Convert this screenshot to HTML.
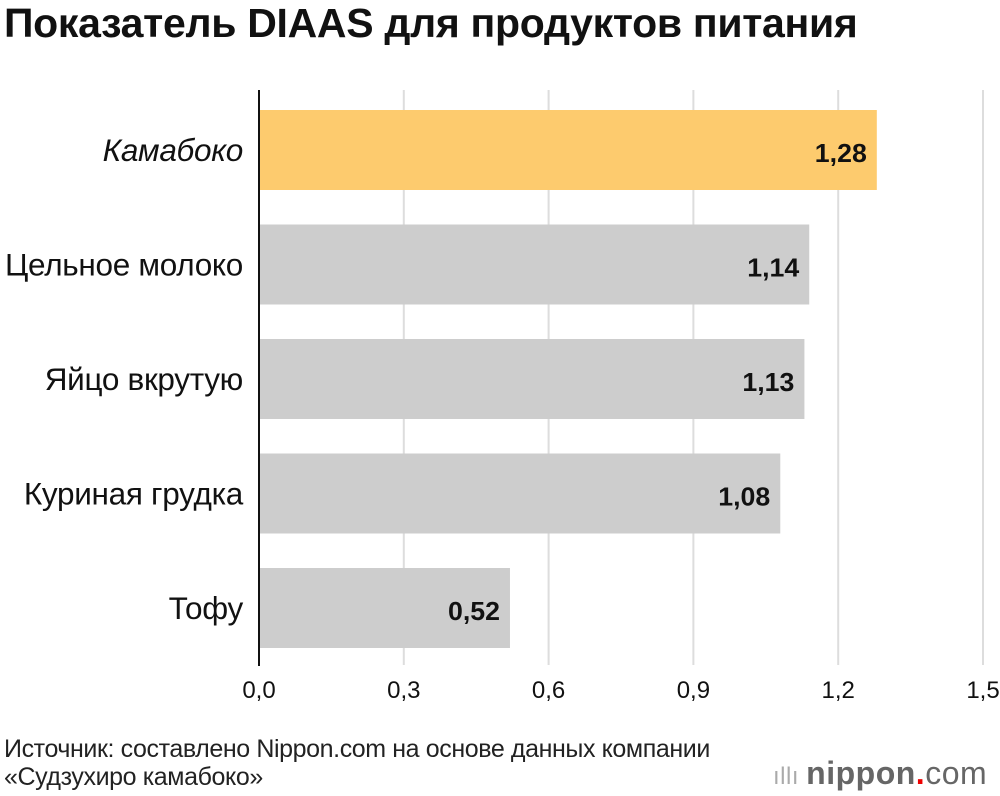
<!DOCTYPE html>
<html><head><meta charset="utf-8"><style>
body{margin:0;width:1000px;height:796px;background:#fff;font-family:"Liberation Sans",sans-serif;overflow:hidden;position:relative}
.t{position:absolute;white-space:nowrap}
</style></head><body>
<div class="t" style="left:4px;top:0px;font-size:41px;font-weight:bold;color:#111;letter-spacing:-0.3px">Показатель DIAAS для продуктов питания</div>
<svg id="c" width="1000" height="796" style="position:absolute;left:0;top:0"></svg>
<div class="t" style="left:4px;top:735px;font-size:25px;color:#222;line-height:28px;letter-spacing:-0.4px">Источник: составлено Nippon.com на основе данных компании<br>«Судзухиро камабоко»</div>
<div class="t" style="left:773px;top:755px;font-size:32px;line-height:36px;color:#666;font-weight:bold;letter-spacing:0.5px"><span style="font-weight:normal;color:#aaa;font-size:24px">ıllı </span>nippon<span style="color:#e00">.</span><span style="font-weight:normal">com</span></div>
<script>
const categories=["Камабоко","Цельное молоко","Яйцо вкрутую","Куриная грудка","Тофу"];
const values=[1.28,1.14,1.13,1.08,0.52];
const labels=["1,28","1,14","1,13","1,08","0,52"];
const ticks=[0,0.3,0.6,0.9,1.2,1.5];
const tickLabels=["0,0","0,3","0,6","0,9","1,2","1,5"];
const svg=document.getElementById('c');const NS='http://www.w3.org/2000/svg';
const x=v=>259+v*(983-259)/1.5;
const y=i=>110+i*114.5;
function mk(t,a){const e=document.createElementNS(NS,t);for(const k in a)e.setAttribute(k,a[k]);svg.appendChild(e);return e;}
ticks.forEach((t,i)=>{
 if(i>0){const g=mk('line',{x1:x(t),x2:x(t),y1:90,y2:665,stroke:'#ddd','stroke-width':2});
 
 }
 const l=mk('text',{x:x(t),y:698,'text-anchor':'middle','font-size':24,fill:'#111'});l.textContent=tickLabels[i];
 
 
});
values.forEach((v,i)=>{
 const r=mk('rect',{x:x(0),y:y(i),width:x(v)-x(0),height:80,fill:i==0?'#fdcb6e':'#cdcdcd'});
 
 
 const t=mk('text',{x:x(v)-10,y:y(i)+52,'text-anchor':'end','font-size':26,fill:'#111','font-weight':'bold','textLength':'52','lengthAdjust':'spacingAndGlyphs'});t.textContent=labels[i];
 
 
 const c=mk('text',{x:243,y:y(i)+51,'text-anchor':'end','font-size':31.5,fill:'#111','letter-spacing':'-0.3'});c.textContent=categories[i];
 if(i==0)c.setAttribute('font-style','italic');
 
 
});
const a=mk('line',{x1:259,x2:259,y1:90,y2:666,stroke:'#111','stroke-width':2});


</script>
</body></html>
